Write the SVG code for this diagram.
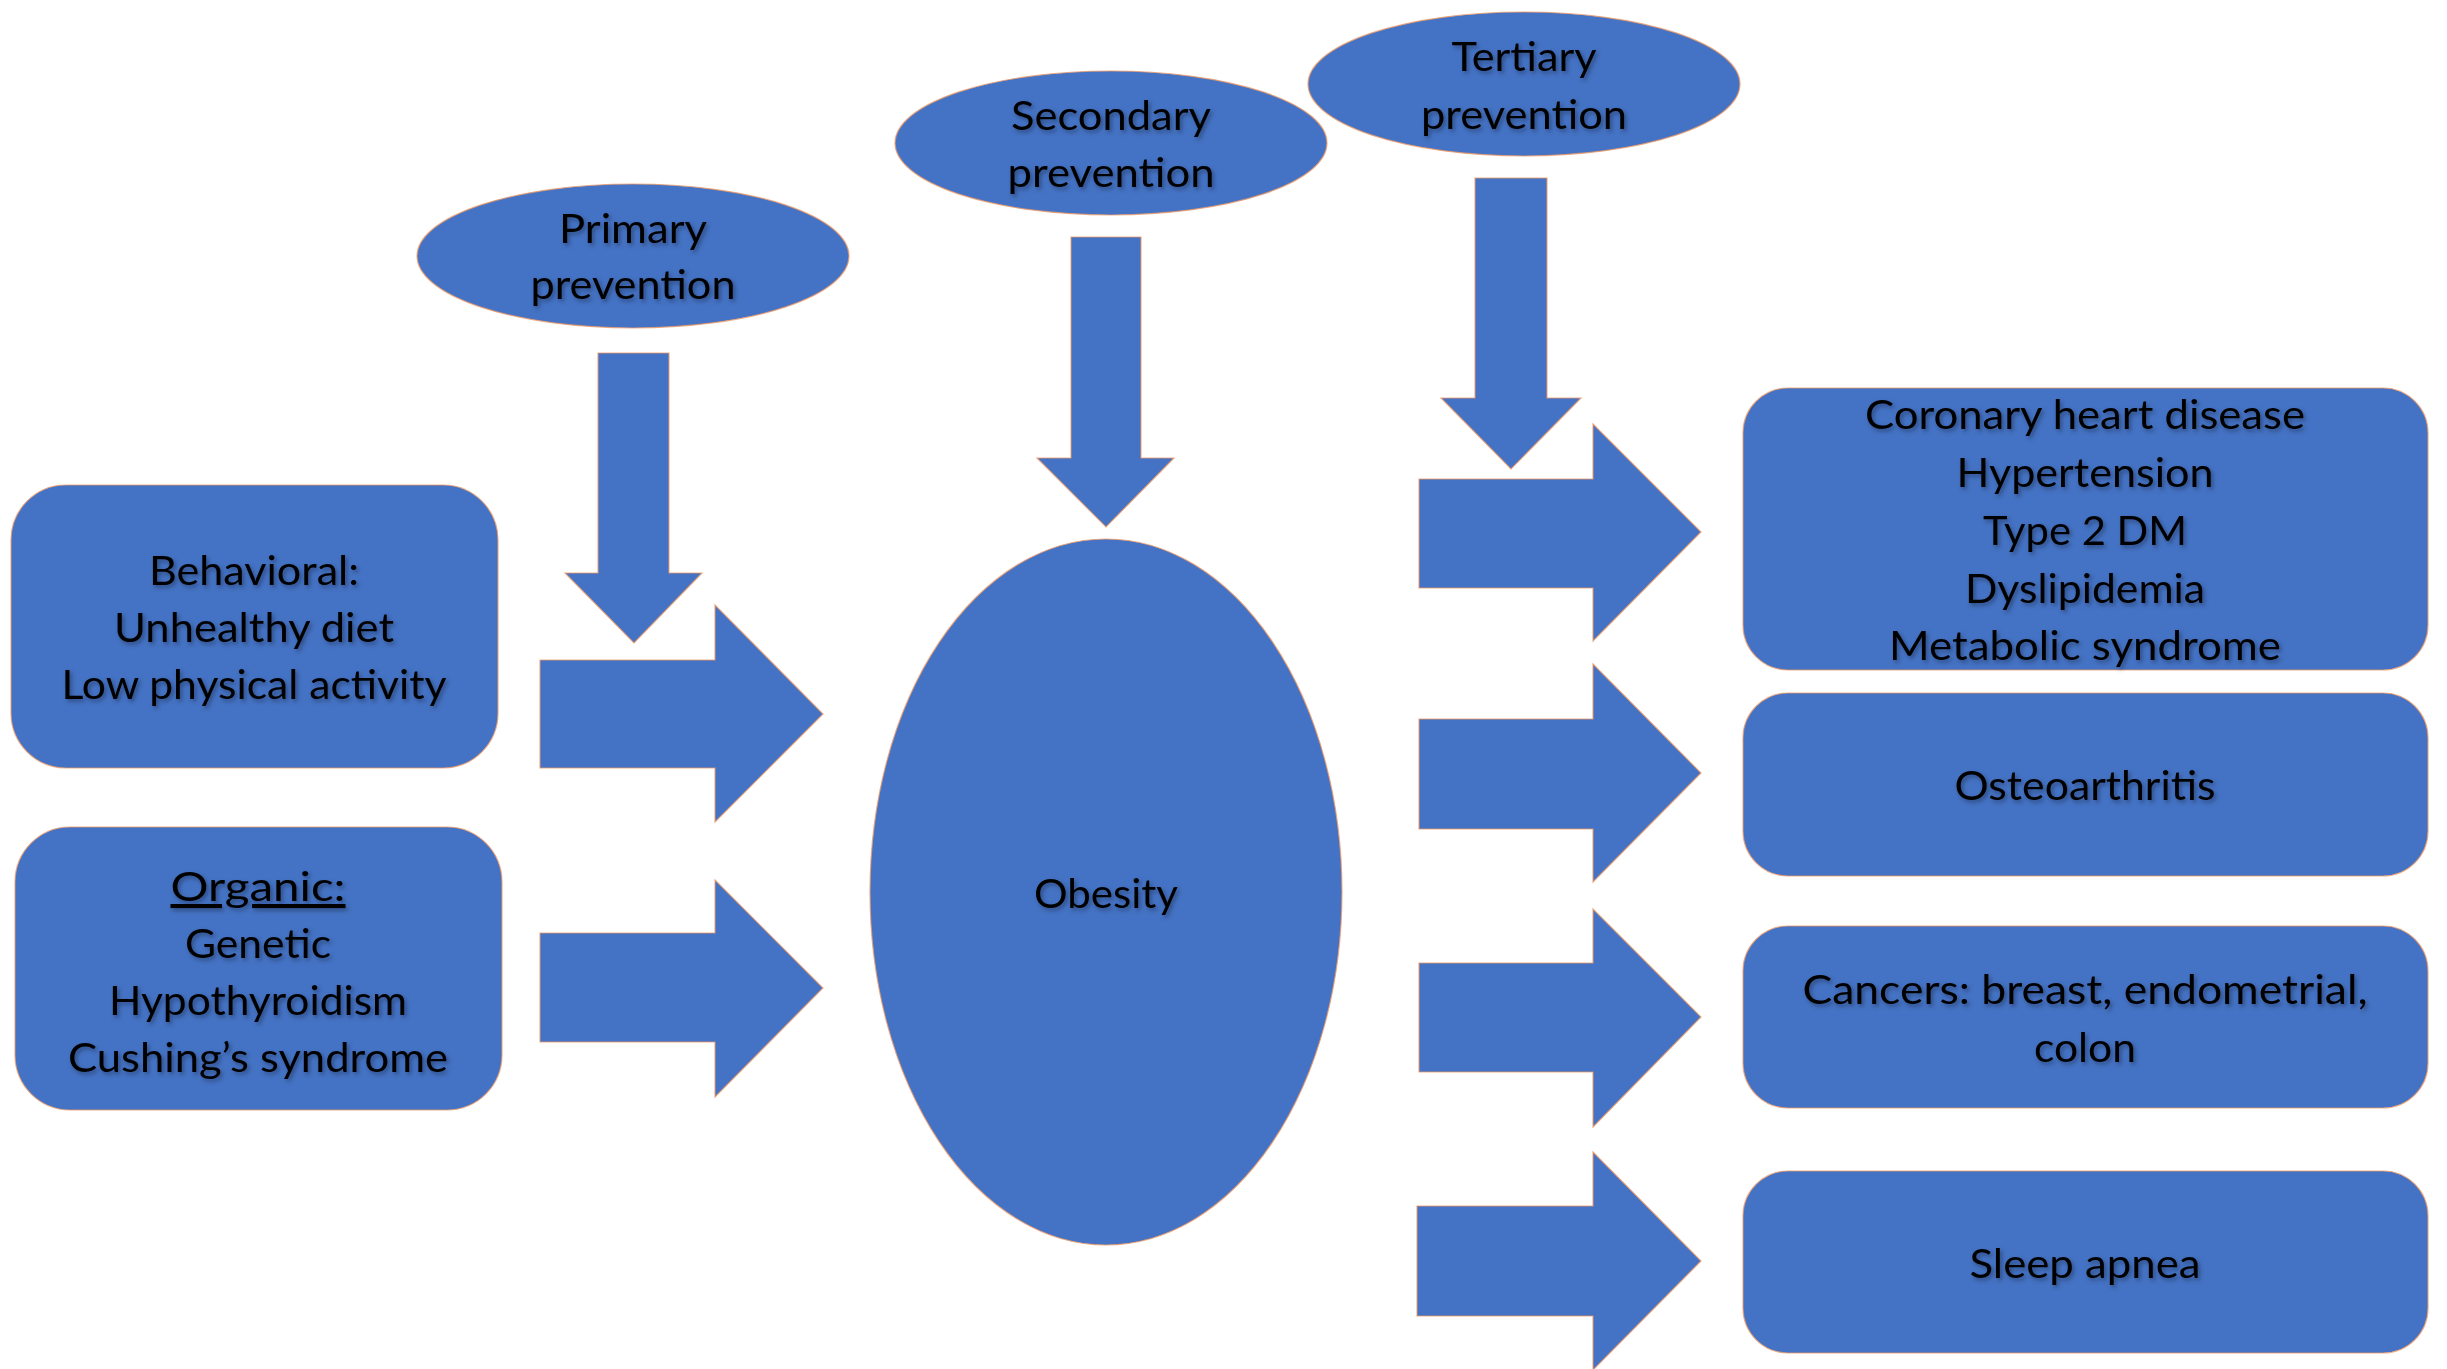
<svg xmlns="http://www.w3.org/2000/svg" width="2447" height="1369" viewBox="0 0 2447 1369">
<defs>
<style>
.s{fill:#4472C4;stroke:#EE9A66;stroke-width:1.2;stroke-opacity:0.8}
.t{font-family:Lato,"Open Sans","Liberation Sans",sans-serif;font-size:41px;font-weight:400;fill:#000;text-anchor:middle;filter:url(#sh)}
.u{text-decoration:underline}
</style>
<filter id="sh" x="-10%" y="-30%" width="130%" height="170%">
<feDropShadow dx="2" dy="2.5" stdDeviation="2" flood-color="#000" flood-opacity="0.35"/>
</filter>
</defs>
<rect width="2447" height="1369" fill="#fff"/>
<g id="connectors">
<polygon class="s" points="598,353 669,353 669,573 702,573 634,643 565,573 598,573"/>
<polygon class="s" points="1071,237 1141,237 1141,458 1174,458 1106,527 1037,458 1071,458"/>
<polygon class="s" points="1475,178 1547,178 1547,398 1581,398 1511,469 1441,398 1475,398"/>
<polygon class="s" points="540,660 715,660 715,605 823,714 715,822 715,768 540,768"/>
<polygon class="s" points="540,933 715,933 715,880 823,988 715,1097 715,1042 540,1042"/>
<polygon class="s" points="1419,479 1593,479 1593,424 1701,532 1593,641 1593,588 1419,588"/>
<polygon class="s" points="1419,719 1593,719 1593,664 1701,773 1593,882 1593,829 1419,829"/>
<polygon class="s" points="1419,963 1593,963 1593,909 1701,1017 1593,1127 1593,1072 1419,1072"/>
<polygon class="s" points="1417,1206 1593,1206 1593,1152 1701,1261 1593,1370 1593,1316 1417,1316"/>
</g>
<g id="primary">
<ellipse class="s" cx="633" cy="256" rx="216" ry="72"/>
<text class="t" x="633" y="243" textLength="148" lengthAdjust="spacingAndGlyphs">Primary</text>
<text class="t" x="633" y="299" textLength="205" lengthAdjust="spacingAndGlyphs">prevention</text>
</g>
<g id="secondary">
<ellipse class="s" cx="1111" cy="143" rx="216" ry="72"/>
<text class="t" x="1111" y="130" textLength="200" lengthAdjust="spacingAndGlyphs">Secondary</text>
<text class="t" x="1111" y="187" textLength="207" lengthAdjust="spacingAndGlyphs">prevention</text>
</g>
<g id="tertiary">
<ellipse class="s" cx="1524" cy="84" rx="216" ry="72"/>
<text class="t" x="1524" y="71" textLength="145" lengthAdjust="spacingAndGlyphs">Tertiary</text>
<text class="t" x="1524" y="129" textLength="206" lengthAdjust="spacingAndGlyphs">prevention</text>
</g>
<g id="behavioral">
<rect class="s" x="11" y="485" width="487" height="283" rx="55" ry="55"/>
<text class="t" x="254" y="585" textLength="210" lengthAdjust="spacingAndGlyphs">Behavioral:</text>
<text class="t" x="254" y="642" textLength="280" lengthAdjust="spacingAndGlyphs">Unhealthy diet</text>
<text class="t" x="254" y="699" textLength="385" lengthAdjust="spacingAndGlyphs">Low physical activity</text>
</g>
<g id="organic">
<rect class="s" x="15" y="827" width="487" height="283" rx="55" ry="55"/>
<text class="t u" x="258" y="901" textLength="175" lengthAdjust="spacingAndGlyphs">Organic:</text>
<text class="t" x="258" y="958" textLength="146" lengthAdjust="spacingAndGlyphs">Genetic</text>
<text class="t" x="258" y="1015" textLength="298" lengthAdjust="spacingAndGlyphs">Hypothyroidism</text>
<text class="t" x="258" y="1072" textLength="380" lengthAdjust="spacingAndGlyphs">Cushing’s syndrome</text>
</g>
<g id="obesity">
<ellipse class="s" cx="1106" cy="892" rx="236" ry="353"/>
<text class="t" x="1106" y="908" textLength="144" lengthAdjust="spacingAndGlyphs">Obesity</text>
</g>
<g id="cardio">
<rect class="s" x="1743" y="388" width="685" height="282" rx="45" ry="45"/>
<text class="t" x="2085" y="429" textLength="440" lengthAdjust="spacingAndGlyphs">Coronary heart disease</text>
<text class="t" x="2085" y="487" textLength="257" lengthAdjust="spacingAndGlyphs">Hypertension</text>
<text class="t" x="2085" y="545" textLength="204" lengthAdjust="spacingAndGlyphs">Type 2 DM</text>
<text class="t" x="2085" y="603" textLength="240" lengthAdjust="spacingAndGlyphs">Dyslipidemia</text>
<text class="t" x="2085" y="660" textLength="392" lengthAdjust="spacingAndGlyphs">Metabolic syndrome</text>
</g>
<g id="osteo">
<rect class="s" x="1743" y="693" width="685" height="183" rx="45" ry="45"/>
<text class="t" x="2085" y="800" textLength="261" lengthAdjust="spacingAndGlyphs">Osteoarthritis</text>
</g>
<g id="cancers">
<rect class="s" x="1743" y="926" width="685" height="182" rx="45" ry="45"/>
<text class="t" x="2085" y="1004" textLength="565" lengthAdjust="spacingAndGlyphs">Cancers: breast, endometrial,</text>
<text class="t" x="2085" y="1062" textLength="102" lengthAdjust="spacingAndGlyphs">colon</text>
</g>
<g id="sleep">
<rect class="s" x="1743" y="1171" width="685" height="182" rx="45" ry="45"/>
<text class="t" x="2085" y="1278" textLength="231" lengthAdjust="spacingAndGlyphs">Sleep apnea</text>
</g>
</svg>
